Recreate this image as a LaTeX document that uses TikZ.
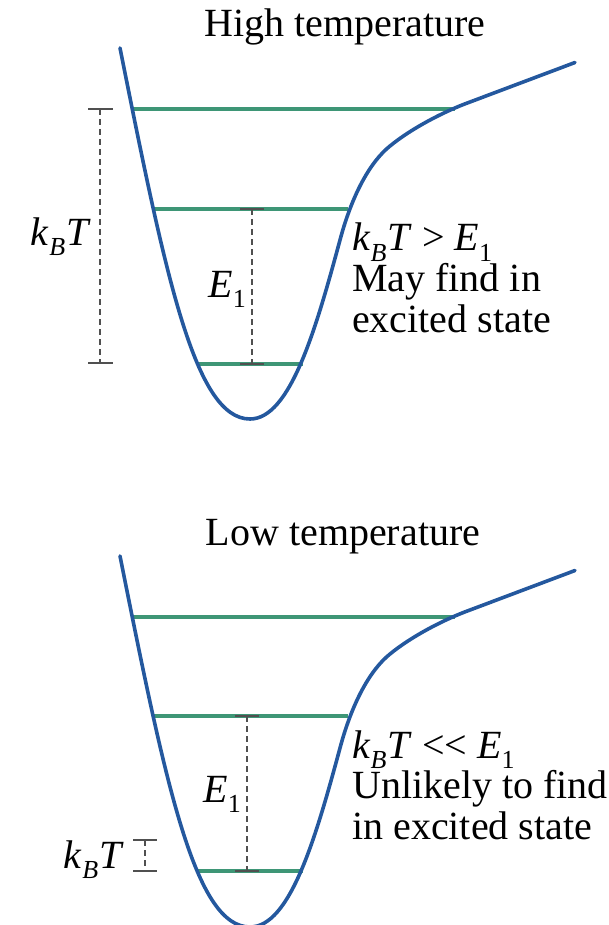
\documentclass[tikz,border=0pt]{standalone}
\usepackage{fontspec}
\setmainfont{Liberation Serif}
\definecolor{curveblue}{RGB}{36,88,158}
\definecolor{levelgreen}{RGB}{62,150,118}
\definecolor{bargray}{RGB}{80,80,80}
\newcommand{\kbt}{\textit{k}\raisebox{-0.26em}{\fontsize{26}{26}\selectfont\textit{B}}\kern1pt\textit{T}}
\newcommand{\eone}{\textit{E}\raisebox{-0.26em}{\fontsize{26}{26}\selectfont 1}}
\newcommand{\threelines}[3]{\vtop{\baselineskip=40.7pt\lineskiplimit=-\maxdimen
  \hbox{#1}\hbox{#2}\hbox{#3}}}
\newcommand{\wellcurve}{%
  \draw[well] (120,48) .. controls (166,278) and (195,419) .. (250,419)
     .. controls (290,419) and (315.7,330) .. (340,240)
     .. controls (352,195) and (370,162) .. (390,146)
     .. controls (412,128) and (445,111) .. (470,102)
     -- (575,62.5);}
\tikzset{
  well/.style={draw=curveblue,line width=3.6pt,line cap=round,line join=round},
  level/.style={draw=levelgreen,line width=3.6pt},
  dimline/.style={draw=bargray,line width=1.2pt,dash pattern=on 6pt off 4pt},
  dimtick/.style={draw=bargray,line width=1.4pt},
  txt/.style={font=\fontsize{40}{42}\selectfont,inner sep=0pt},
  ann/.style={txt,anchor=base west},
}
\begin{document}
\begin{tikzpicture}[x=1pt,y=-1pt]
\useasboundingbox (0,0) rectangle (609,925);

% ---------- High temperature ----------
\node[txt,anchor=base] (t1) at (345,37) {High temperature};
\draw[level] (132,109) -- (455,109);
\draw[level] (152,209) -- (348,209);
\draw[level] (198,364) -- (303,364);
\wellcurve
% k_B T bar
\coordinate (ka) at (100,109);
\coordinate (kb) at (100,363);
\draw[dimline] (ka) -- (kb);
\draw[dimtick] (88,109) -- (113,109);
\draw[dimtick] (88,363) -- (113,363);
\node[txt,anchor=base east] (kl1) at (91,245) {\kbt};
% E1 bar
\coordinate (ea) at (252,209);
\coordinate (eb) at (252,364);
\draw[dimline] (ea) -- (eb);
\draw[dimtick] (240,209) -- (264,209);
\draw[dimtick] (240,364) -- (264,364);
\node[txt,anchor=base east] (el1) at (246,297) {\eone};
% annotation
\node[ann] (a1) at (352,251) {\threelines{\kbt\ > \eone}{May find in}{excited state}};

% ---------- Low temperature ----------
\node[txt,anchor=base] (t2) at (343,545) {Low temperature};
\begin{scope}[shift={(0,508)}]
\draw[level] (132,109) -- (455,109);
\draw[level] (152,208) -- (348,208);
\draw[level] (198,363) -- (303,363);
\wellcurve
\end{scope}
% E1 bar
\coordinate (fa) at (247,716);
\coordinate (fb) at (247,871);
\draw[dimline] (fa) -- (fb);
\draw[dimtick] (235,716) -- (259,716);
\draw[dimtick] (235,871) -- (259,871);
\node[txt,anchor=base east] (el2) at (241,802) {\eone};
% small k_B T bar
\coordinate (ga) at (145,840);
\coordinate (gb) at (145,871);
\draw[dimline] (ga) -- (gb);
\draw[dimtick] (133,840) -- (157,840);
\draw[dimtick] (133,871) -- (157,871);
\node[txt,anchor=base east] (kl2) at (124,868) {\kbt};
% annotation
\node[ann] (b1) at (352,758) {\threelines{\kbt\ <\kern0pt< \eone}{Unlikely to find}{in excited state}};
\end{tikzpicture}
\end{document}
